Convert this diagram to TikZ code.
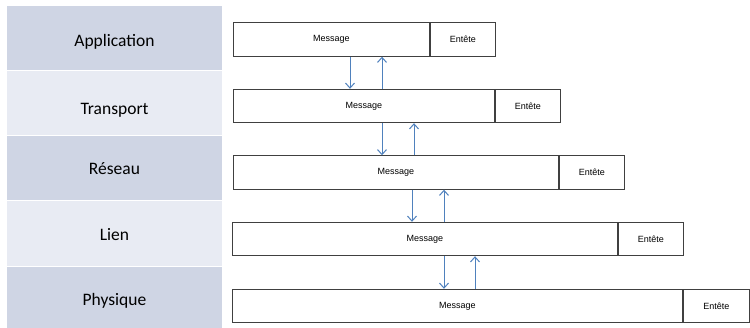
\documentclass[tikz,border=0pt]{standalone}
\usepackage{fontspec}
\setmainfont{Liberation Sans}
\newfontfamily\calib{Carlito}
\usetikzlibrary{arrows.meta}
\definecolor{banddark}{RGB}{207,213,228}
\definecolor{bandlight}{RGB}{232,235,243}
\definecolor{boxline}{RGB}{64,64,64}
\definecolor{arrblue}{RGB}{79,129,189}
\tikzset{
  band/.style={draw=none, fill=#1, minimum width=215pt, inner sep=0pt},
  layerlabel/.style={inner sep=0pt, anchor=base, font=\calib\fontsize{17.5}{20}\selectfont, text=black},
  msgbox/.style={draw=boxline, line width=0.9pt, fill=white, minimum height=33.5pt, inner sep=0pt, font=\fontsize{9}{11}\selectfont, anchor=west},
  entbox/.style={draw=boxline, line width=0.9pt, fill=white, minimum height=33.5pt, minimum width=65pt, inner sep=0pt, font=\fontsize{9}{11}\selectfont, anchor=west},
  flow/.style={draw=arrblue, line width=1pt, -{Straight Barb[length=5pt,width=9pt]}}
}
\begin{document}
\begin{tikzpicture}[x=1pt,y=-1pt]
\useasboundingbox (0,0) rectangle (750,328);
\fill[white] (0,0) rectangle (750,328);
% layer bands
\node[band=banddark, minimum height=64pt] (bApp) at (114.5,38) {};
\node[band=bandlight, minimum height=64pt] (bTra) at (114.5,103) {};
\node[band=banddark, minimum height=64pt] (bRes) at (114.5,168) {};
\node[band=bandlight, minimum height=65pt] (bLie) at (114.5,233.5) {};
\node[band=banddark, minimum height=62pt] (bPhy) at (114.5,298) {};
\node[layerlabel] (lApp) at (114.5,47) {Application};
\node[layerlabel] (lTra) at (114.5,115) {Transport};
\node[layerlabel] (lRes) at (114.5,175) {Réseau};
\node[layerlabel] (lLie) at (114.5,241) {Lien};
\node[layerlabel] (lPhy) at (114.5,306) {Physique};
% row 1
\node[msgbox, minimum width=196pt] (m1) at (233,39.5) {Message};
\node[entbox] (e1) at (m1.east) {Entête};
% row 2
\node[msgbox, minimum width=261pt] (m2) at (233,106) {Message};
\node[entbox] (e2) at (m2.east) {Entête};
% row 3
\node[msgbox, minimum width=325pt] (m3) at (233,172.5) {Message};
\node[entbox] (e3) at (m3.east) {Entête};
% row 4
\node[msgbox, minimum width=385pt] (m4) at (232,239) {Message};
\node[entbox] (e4) at (m4.east) {Entête};
% row 5
\node[msgbox, minimum width=450pt] (m5) at (232,306) {Message};
\node[entbox, minimum width=66pt] (e5) at (m5.east) {Entête};
% arrow positions
\coordinate (d1) at (350,0);
\coordinate (u1) at (382,0);
\coordinate (d2) at (382,0);
\coordinate (u2) at (414,0);
\coordinate (d3) at (412,0);
\coordinate (u3) at (444,0);
\coordinate (d4) at (444,0);
\coordinate (u4) at (475,0);
\draw[flow] (m1.south -| d1) -- (m2.north -| d1);
\draw[flow] (m2.north -| u1) -- (m1.south -| u1);
\draw[flow] (m2.south -| d2) -- (m3.north -| d2);
\draw[flow] (m3.north -| u2) -- (m2.south -| u2);
\draw[flow] (m3.south -| d3) -- (m4.north -| d3);
\draw[flow] (m4.north -| u3) -- (m3.south -| u3);
\draw[flow] (m4.south -| d4) -- (m5.north -| d4);
\draw[flow] (m5.north -| u4) -- (m4.south -| u4);
\end{tikzpicture}
\end{document}
